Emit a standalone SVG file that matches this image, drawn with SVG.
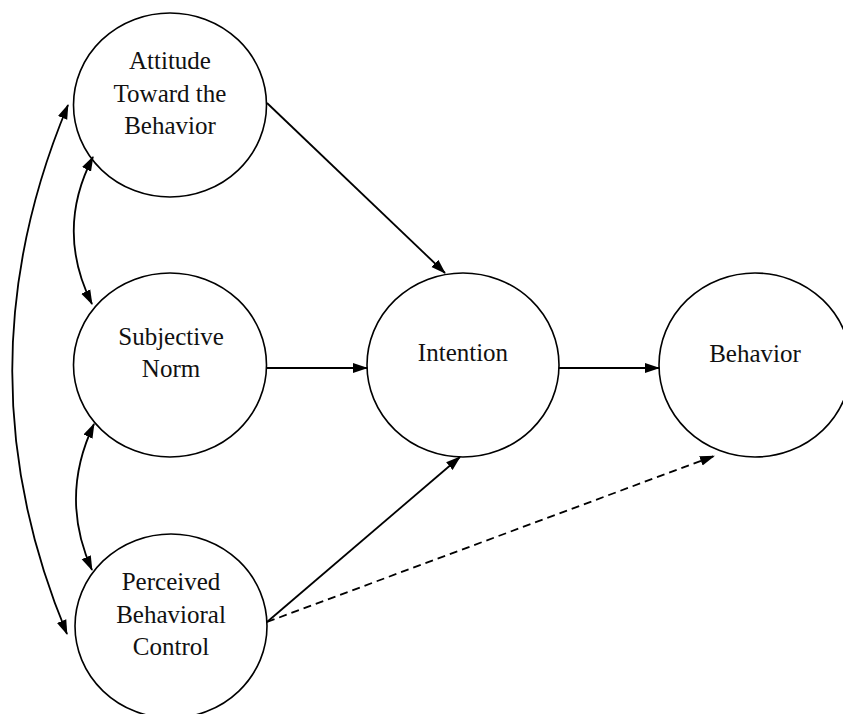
<svg xmlns="http://www.w3.org/2000/svg" width="843" height="714" viewBox="0 0 843 714">
<style>
.node ellipse{fill:#fff;stroke:#000;stroke-width:1.6}
.node text{font-family:"Liberation Serif","Times New Roman",serif;font-size:25px;fill:#111;text-anchor:middle}
.conn path{fill:none;stroke:#000;stroke-width:1.8}
.dash{stroke-dasharray:8 5}
</style>
<defs>
<marker id="ah" markerUnits="userSpaceOnUse" markerWidth="15" markerHeight="12" refX="14" refY="5" orient="auto-start-reverse" viewBox="0 0 15 10">
<path d="M0,0 L15,5 L0,10 Z" fill="#000"/>
</marker>
</defs>
<rect width="843" height="714" fill="#fff"/>
<g id="n-attitude" class="node">
<ellipse cx="170" cy="105" rx="96.5" ry="92"/>
<text x="170" y="69">Attitude</text>
<text x="170" y="102">Toward the</text>
<text x="170" y="134">Behavior</text>
</g>
<g id="n-subjective" class="node">
<ellipse cx="170" cy="365" rx="96.5" ry="92"/>
<text x="171" y="345">Subjective</text>
<text x="171" y="377">Norm</text>
</g>
<g id="n-perceived" class="node">
<ellipse cx="171" cy="626" rx="96" ry="92"/>
<text x="171" y="590">Perceived</text>
<text x="171" y="623">Behavioral</text>
<text x="171" y="655">Control</text>
</g>
<g id="n-intention" class="node">
<ellipse cx="463" cy="365" rx="96" ry="92"/>
<text x="463" y="361">Intention</text>
</g>
<g id="n-behavior" class="node">
<ellipse cx="755" cy="365" rx="96" ry="92"/>
<text x="755" y="362">Behavior</text>
</g>
<g id="connectors" class="conn">
<path d="M267,103 L445,273" marker-end="url(#ah)"/>
<path d="M267,368 L367,368" marker-end="url(#ah)"/>
<path d="M559,368 L659,368" marker-end="url(#ah)"/>
<path d="M267,622 L460,457" marker-end="url(#ah)"/>
<path class="dash" d="M267,622 L714,456" marker-end="url(#ah)"/>
<path d="M93,157 Q55,230 92,304" marker-start="url(#ah)" marker-end="url(#ah)"/>
<path d="M94,424 Q59,497 92,570" marker-start="url(#ah)" marker-end="url(#ah)"/>
<path d="M68,105 Q-43,370 67,634" marker-start="url(#ah)" marker-end="url(#ah)"/>
</g>
</svg>
